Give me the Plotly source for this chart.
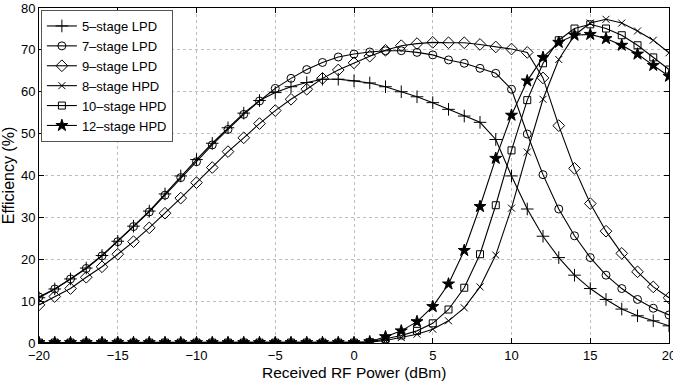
import plotly.graph_objects as go

x_dbm = list(range(-20, 21))

eff_5_lpd = [10.8, 12.9, 15.3, 17.9, 20.9, 24.3, 27.9, 31.5, 35.6, 39.9, 43.8, 47.7, 51.4, 54.9, 57.9,
             59.8, 61.2, 62.2, 63.0, 63.0, 62.6, 62.1, 61.2, 60.0, 58.8, 57.4, 55.8, 54.2, 52.7, 48.6,
             39.9, 32.0, 25.5, 20.4, 16.2, 13.0, 10.4, 8.1, 6.5, 5.3, 4.1]
eff_7_lpd = [11.0, 12.9, 15.3, 17.8, 20.8, 24.2, 27.8, 31.3, 35.3, 39.5, 43.3, 47.3, 51.0, 54.6, 57.8,
             60.8, 63.2, 65.3, 67.0, 68.3, 69.0, 69.5, 69.8, 69.8, 69.4, 68.8, 67.6, 66.8, 65.6, 64.4,
             60.6, 49.9, 40.2, 32.0, 25.6, 20.4, 16.2, 13.0, 10.4, 8.3, 6.7]
eff_9_lpd = [9.1, 11.1, 13.0, 15.7, 18.2, 21.2, 24.2, 27.5, 31.0, 34.6, 38.3, 41.9, 45.7, 49.0, 52.4,
             55.5, 58.2, 60.6, 63.2, 65.2, 66.9, 68.5, 69.9, 71.0, 71.5, 71.8, 71.7, 71.7, 71.3, 70.7,
             70.2, 69.4, 63.3, 51.9, 41.7, 33.3, 26.7, 21.4, 17.0, 13.4, 10.8]
eff_8_hpd = [0.1] * 20 + [0.1, 0.2, 0.6, 1.3, 2.1, 3.3, 5.3, 8.4, 13.4, 21.0,
                          32.2, 45.6, 58.2, 67.7, 73.5, 76.4, 77.3, 76.4, 74.5, 72.3, 69.3]
eff_10_hpd = [0.1] * 20 + [0.1, 0.2, 1.0, 1.8, 2.9, 4.7, 8.0, 13.2, 21.2, 32.9,
                           46.0, 58.0, 66.8, 72.3, 75.1, 76.1, 75.1, 73.5, 71.1, 68.2, 65.3]
eff_12_hpd = [0.1] * 20 + [0.1, 0.3, 1.5, 2.9, 5.1, 8.7, 14.1, 22.1, 32.6, 44.1,
                           54.4, 62.6, 68.2, 71.8, 73.5, 73.7, 72.7, 71.1, 69.0, 66.3, 63.7]

x_ticks = [-20, -15, -10, -5, 0, 5, 10, 15, 20]
x_tick_text = ["\u221220", "\u221215", "\u221210", "\u22125", "0", "5", "10", "15", "20"]
y_ticks = [0, 10, 20, 30, 40, 50, 60, 70, 80]

series = [
    ("5\u2013stage LPD", eff_5_lpd, "cross-thin-open", 9),
    ("7\u2013stage LPD", eff_7_lpd, "circle-open", 8),
    ("9\u2013stage LPD", eff_9_lpd, "diamond-open", 9),
    ("8\u2013stage HPD", eff_8_hpd, "x-thin-open", 7),
    ("10\u2013stage HPD", eff_10_hpd, "square-open", 7),
    ("12\u2013stage HPD", eff_12_hpd, "star", 9),
]

fig = go.Figure()
for name, ys, sym, sz in series:
    fig.add_trace(go.Scatter(
        x=x_dbm, y=ys, name=name, mode="lines+markers",
        line=dict(color="black", width=1.1),
        marker=dict(symbol=sym, size=sz, color="black",
                    line=dict(color="black", width=1)),
    ))

axis_common = dict(
    showline=True, linecolor="black", linewidth=1, mirror="ticks",
    ticks="inside", ticklen=5, tickcolor="black",
    showgrid=True, gridcolor="#bdbdbd", griddash="dot", gridwidth=1,
    zeroline=False, tickfont=dict(size=13, color="black"), automargin=False,
    ticklabeloverflow="allow",
)

fig.update_layout(
    width=673, height=382,
    margin=dict(l=39, r=4, t=8, b=39),
    paper_bgcolor="white", plot_bgcolor="white",
    font=dict(family="Liberation Sans, Arial, sans-serif", color="black"),
    xaxis=dict(range=[-20, 20], tickvals=x_ticks, ticktext=x_tick_text, **axis_common),
    yaxis=dict(range=[0, 80], tickvals=y_ticks,
               title=dict(text="Efficiency (%)", font=dict(size=16), standoff=4),
               **axis_common),
    legend=dict(x=0.003, y=0.994, xanchor="left", yanchor="top",
                bgcolor="white", bordercolor="#555555", borderwidth=1,
                font=dict(size=13), tracegroupgap=0, itemwidth=30),
    showlegend=True,
    annotations=[dict(text="Received RF Power (dBm)", xref="paper", yref="paper",
                      x=0.5, y=-0.1164, xanchor="center", yanchor="bottom",
                      showarrow=False, borderpad=0, font=dict(size=15.5))],
)

fig.write_html("out.html", config={"displayModeBar": False},
               post_script="document.body.style.margin='0';")
